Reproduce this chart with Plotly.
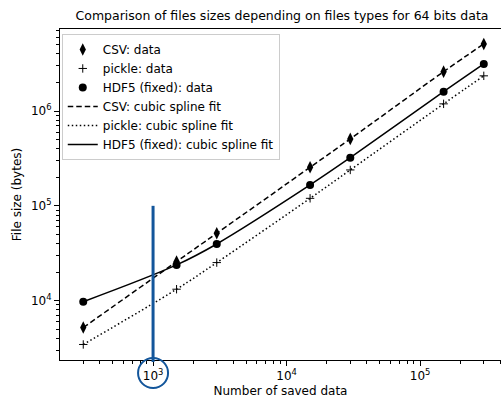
import math
import plotly.graph_objects as go

# ---- data ----
n_saved = [300, 1500, 3000, 15000, 30000, 150000, 300000]
csv_size = [5200, 25800, 51400, 255000, 508000, 2600000, 5100000]
pickle_size = [3450, 13200, 25200, 120000, 239000, 1190000, 2350000]
hdf5_size = [9750, 23800, 39600, 166000, 322000, 1600000, 3140000]

x_ticks = [1e3, 1e4, 1e5]
x_ticktext = ["10<sup>3</sup>", "10<sup>4</sup>", "10<sup>5</sup>"]
y_ticks = [1e4, 1e5, 1e6]
y_ticktext = ["10<sup>4</sup>", "10<sup>5</sup>", "10<sup>6</sup>"]

x_range = [2.303, 5.606]
y_range = [3.374, 6.865]
highlight_x = 1e3
highlight_top = 1e5

FONT = "DejaVu Sans"
BLUE = "#13569b"

fig = go.Figure()

fig.add_trace(go.Scatter(x=n_saved, y=csv_size, mode="markers", name="CSV: data",
                         marker=dict(symbol="diamond-tall", size=9, color="black")))
fig.add_trace(go.Scatter(x=n_saved, y=pickle_size, mode="markers", name="pickle: data",
                         marker=dict(symbol="cross-thin", size=6, color="black",
                                     line=dict(color="black", width=1))))
fig.add_trace(go.Scatter(x=n_saved, y=hdf5_size, mode="markers", name="HDF5 (fixed): data",
                         marker=dict(symbol="circle", size=8, color="black")))
fig.add_trace(go.Scatter(x=n_saved, y=csv_size, mode="lines", name="CSV: cubic spline fit",
                         line=dict(color="black", width=1.5, dash="5.5px,3px", shape="spline")))
fig.add_trace(go.Scatter(x=n_saved, y=pickle_size, mode="lines", name="pickle: cubic spline fit",
                         line=dict(color="black", width=1.5, dash="1.5px,2.5px", shape="spline")))
fig.add_trace(go.Scatter(x=n_saved, y=hdf5_size, mode="lines", name="HDF5 (fixed): cubic spline fit",
                         line=dict(color="black", width=1.5, shape="spline")))

px_paper = (math.log10(highlight_x) - x_range[0]) / (x_range[1] - x_range[0])
top_paper = (math.log10(highlight_top) - y_range[0]) / (y_range[1] - y_range[0])

fig.add_shape(type="line", xref="paper", yref="paper", x0=px_paper, x1=px_paper,
              y0=top_paper, y1=-0.006, line=dict(color=BLUE, width=3), layer="above")
fig.add_shape(type="circle", xref="paper", yref="paper",
              xsizemode="pixel", xanchor=px_paper, x0=-15, x1=15,
              ysizemode="pixel", yanchor=0, y0=-28, y1=2,
              line=dict(color=BLUE, width=2), layer="above")

minor_x = [m * 10 ** e for e in range(2, 6) for m in range(2, 10)]
minor_y = [m * 10 ** e for e in range(3, 7) for m in range(2, 10)]

fig.update_layout(
    width=501, height=398,
    margin=dict(l=60, r=0, t=29, b=38, autoexpand=False),
    paper_bgcolor="white", plot_bgcolor="white",
    font=dict(family=FONT, size=12, color="black"),
    title=dict(text="Comparison of files sizes depending on files types for 64 bits data",
               x=(60 + 504) / 2 / 501, xanchor="center", y=1 - 16 / 398, yanchor="middle",
               font=dict(size=12.5), automargin=False),
    showlegend=True,
    legend=dict(x=0.004, y=0.985, xanchor="left", yanchor="top",
                bgcolor="rgba(255,255,255,0.8)", bordercolor="#cccccc", borderwidth=1,
                font=dict(size=12), tracegroupgap=0),
)
fig.update_xaxes(type="log", range=x_range, showgrid=False, zeroline=False, automargin=False,
                 showline=True, linecolor="black", linewidth=1, mirror=True,
                 ticks="outside", ticklen=5, tickcolor="black",
                 tickmode="array", tickvals=x_ticks, ticktext=x_ticktext,
                 tickfont=dict(size=12),
                 minor=dict(tickmode="array", tickvals=minor_x, ticks="outside",
                            ticklen=3, tickcolor="black", showgrid=False),
                 title=dict(text="Number of saved data", standoff=4, font=dict(size=12)))
fig.update_yaxes(type="log", range=y_range, showgrid=False, zeroline=False, automargin=False,
                 showline=True, linecolor="black", linewidth=1, mirror=False,
                 ticks="outside", ticklen=5, tickcolor="black",
                 tickmode="array", tickvals=y_ticks, ticktext=y_ticktext,
                 tickfont=dict(size=12),
                 minor=dict(tickmode="array", tickvals=minor_y, ticks="outside",
                            ticklen=3, tickcolor="black", showgrid=False),
                 title=dict(text="File size (bytes)", standoff=6, font=dict(size=12)))

fig.write_html("out.html", config={"displayModeBar": False},
               post_script="document.body.style.margin='0';document.body.style.overflow='hidden';")
